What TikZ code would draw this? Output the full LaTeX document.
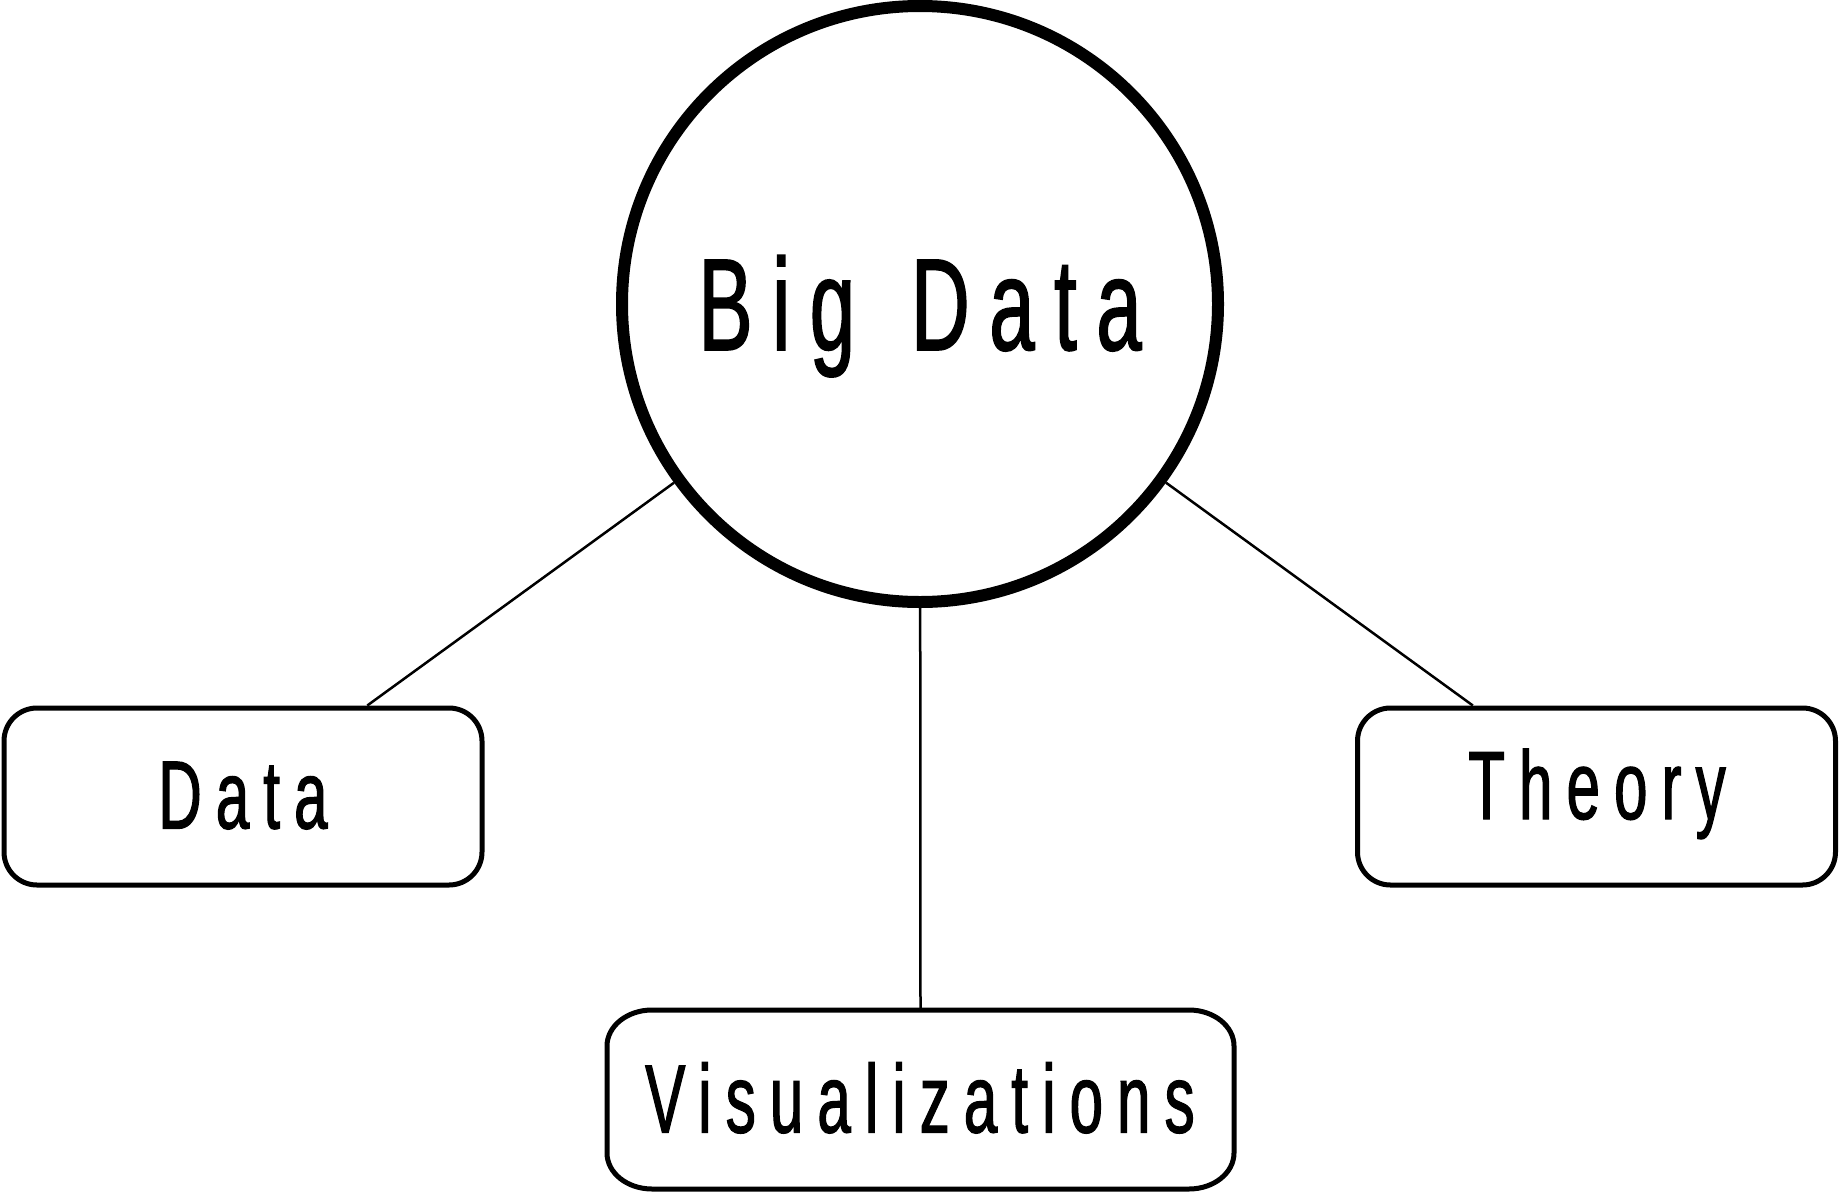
\documentclass[tikz,border=0pt]{standalone}
\usepackage{fontspec}
\newfontfamily\bigfont[FakeStretch=0.62,LetterSpace=15,FakeBold=1.2]{Liberation Sans}
\newfontfamily\smallfont[FakeStretch=0.62,LetterSpace=14.5,FakeBold=1.2]{Liberation Sans}
\begin{document}
\begin{tikzpicture}[x=1pt,y=-1pt,
  hub/.style={circle,draw,line width=12pt,minimum size=596pt,inner sep=0pt},
  leaf/.style={draw,line width=5pt,rounded corners=33pt,minimum width=478pt,minimum height=177pt,inner sep=0pt},
  edge/.style={line width=2.5pt},
  big/.style={font=\bigfont\fontsize{131}{131}\selectfont,inner sep=0pt,anchor=base},
  small/.style={font=\smallfont\fontsize{97}{97}\selectfont,inner sep=0pt,anchor=base}]
\useasboundingbox (0,0) rectangle (1840,1192);
\node[hub] (bd) at (920,304) {};
\node[big] (bdt) at (920,350) {\mbox{Big}\hspace{56pt}\mbox{Data}};
\node[leaf] (data) at (243,796.5) {};
\node[small] (datat) at (243,828.5) {Data};
\node[leaf] (theory) at (1596.5,796.5) {};
\node[small] (theoryt) at (1597,819) {Theory};
\node[minimum width=627pt,minimum height=179pt,inner sep=0pt,outer sep=0pt] (vis) at (920.5,1099.5) {};
\draw[line width=5pt] ([xshift=45pt]vis.north west) -- ([xshift=-45pt]vis.north east)
  arc[start angle=90,end angle=0,x radius=45pt,y radius=36pt]
  -- ([yshift=36pt]vis.south east)
  arc[start angle=0,end angle=-90,x radius=45pt,y radius=36pt]
  -- ([xshift=45pt]vis.south west)
  arc[start angle=270,end angle=180,x radius=45pt,y radius=36pt]
  -- ([yshift=-36pt]vis.north west)
  arc[start angle=180,end angle=90,x radius=45pt,y radius=36pt] -- cycle;
\node[small] (vist) at (920,1132.5) {Visualizations};
\coordinate (dtop) at ([xshift=124.3pt]data.north);
\coordinate (ttop) at ([xshift=-123.7pt]theory.north);
\draw[edge] (bd) -- (dtop);
\draw[edge] (bd) -- (ttop);
\draw[edge] (bd) -- (vis.north);
\end{tikzpicture}
\end{document}
